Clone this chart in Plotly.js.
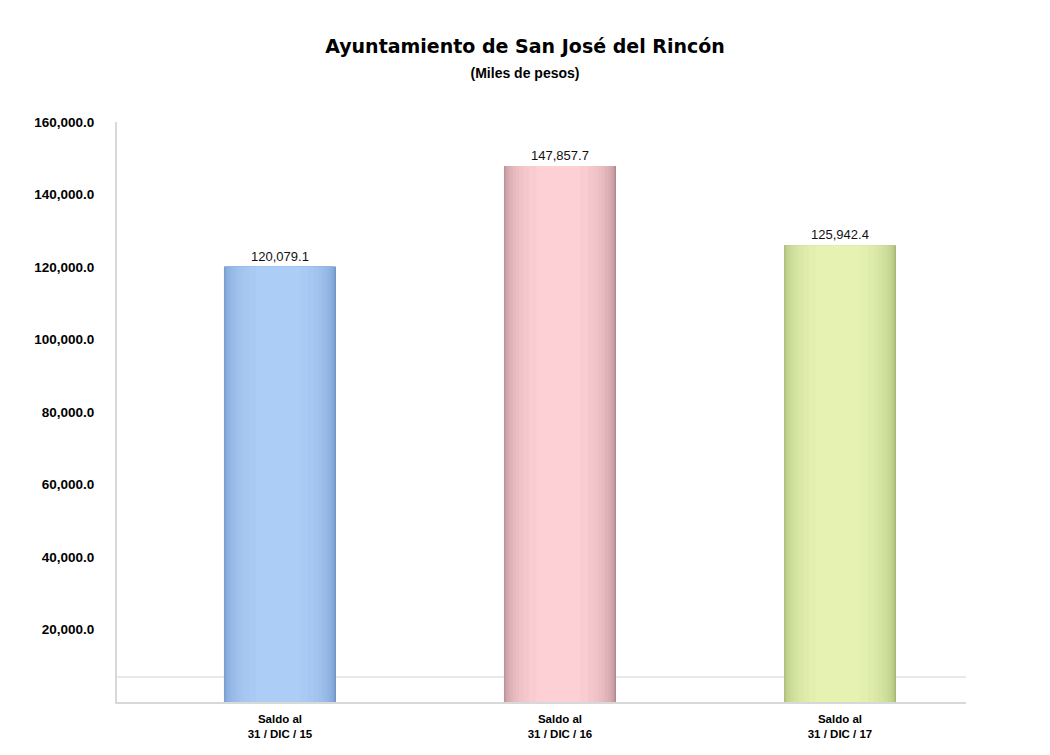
<!DOCTYPE html>
<html>
<head>
<meta charset="utf-8">
<script src="https://cdn.plot.ly/plotly-3.0.1.min.js"></script>
<style>html,body{margin:0;padding:0;background:#fff;}#chart{width:1050px;height:755px;}</style>
</head>
<body>
<div id="chart"></div>
<script>
// Data
const categories = ["Saldo al<br>31 / DIC / 15", "Saldo al<br>31 / DIC / 16", "Saldo al<br>31 / DIC / 17"];
const values = [120079.1, 147857.7, 125942.4];
const valueLabels = ["120,079.1", "147,857.7", "125,942.4"];
const tickValues = [20000, 40000, 60000, 80000, 100000, 120000, 140000, 160000];

// Styling: cylinder shading layers (edge -> centre colour per bar)
const edgeColors = [[100, 136, 192], [160, 118, 126], [150, 170, 100]];
const centreColors = [[172, 206, 246], [252, 208, 212], [230, 242, 178]];
const nLayers = 14;

function mix(a, b, t) {
  return 'rgb(' + a.map((v, i) => Math.round(v + (b[i] - v) * t)).join(',') + ')';
}

const traces = [];
for (let li = 0; li < nLayers; li++) {
  const t = li / (nLayers - 1);
  const w = 0.40 * Math.sqrt(1 - Math.pow(t * 0.92, 2));
  traces.push({
    type: 'bar',
    x: [0, 1, 2],
    y: values,
    width: w,
    offset: -w / 2 - 0.006 * t,
    marker: {color: edgeColors.map((e, k) => mix(e, centreColors[k], Math.pow(t, 0.6))), line: {width: 0}},
    text: li === 0 ? valueLabels : undefined,
    textposition: li === 0 ? 'outside' : 'none',
    textfont: {family: 'Liberation Sans, Arial, sans-serif', size: 13, color: '#111'},
    cliponaxis: false,
    hoverinfo: 'skip',
    showlegend: false
  });
}

const layout = {
  width: 1050, height: 755,
  paper_bgcolor: '#ffffff', plot_bgcolor: '#ffffff',
  barmode: 'overlay',
  margin: {l: 117, r: 84, t: 122, b: 53},
  title: {
    text: '<b>Ayuntamiento de San José del Rincón</b><br><b><span style="font-size:14px;font-family:Liberation Sans, Arial, sans-serif">(Miles de pesos)</span></b>',
    x: 0.5, xref: 'container', y: 0.93, yref: 'container', yanchor: 'top',
    font: {family: 'DejaVu Sans, Liberation Sans, Arial, sans-serif', size: 19, color: '#000'}
  },
  xaxis: {
    range: [-0.582, 2.45],
    tickvals: [0, 1, 2], ticktext: categories,
    tickfont: {family: 'Liberation Sans, Arial, sans-serif', size: 11.5, color: '#000', weight: 'bold'},
    showgrid: false, zeroline: false,
    showline: true, linecolor: '#d8d8d8', linewidth: 2,
    ticks: '', ticklabelstandoff: 5, fixedrange: true
  },
  yaxis: {
    range: [0, 160000],
    tickvals: tickValues, tickformat: ',.1f',
    tickfont: {family: 'Liberation Sans, Arial, sans-serif', size: 13.5, color: '#000', weight: 'bold'},
    showgrid: false, zeroline: false,
    showline: true, linecolor: '#d8d8d8', linewidth: 2,
    ticks: '', ticklabelstandoff: 18, fixedrange: true
  },
  shapes: [{
    type: 'line', xref: 'paper', yref: 'paper', x0: 0.0, x1: 1.0, y0: 0.043, y1: 0.043,
    line: {color: '#e2e2e2', width: 1.5}, layer: 'below'
  }]
};

Plotly.newPlot('chart', traces, layout, {displayModeBar: false, staticPlot: true});
</script>
</body>
</html>
